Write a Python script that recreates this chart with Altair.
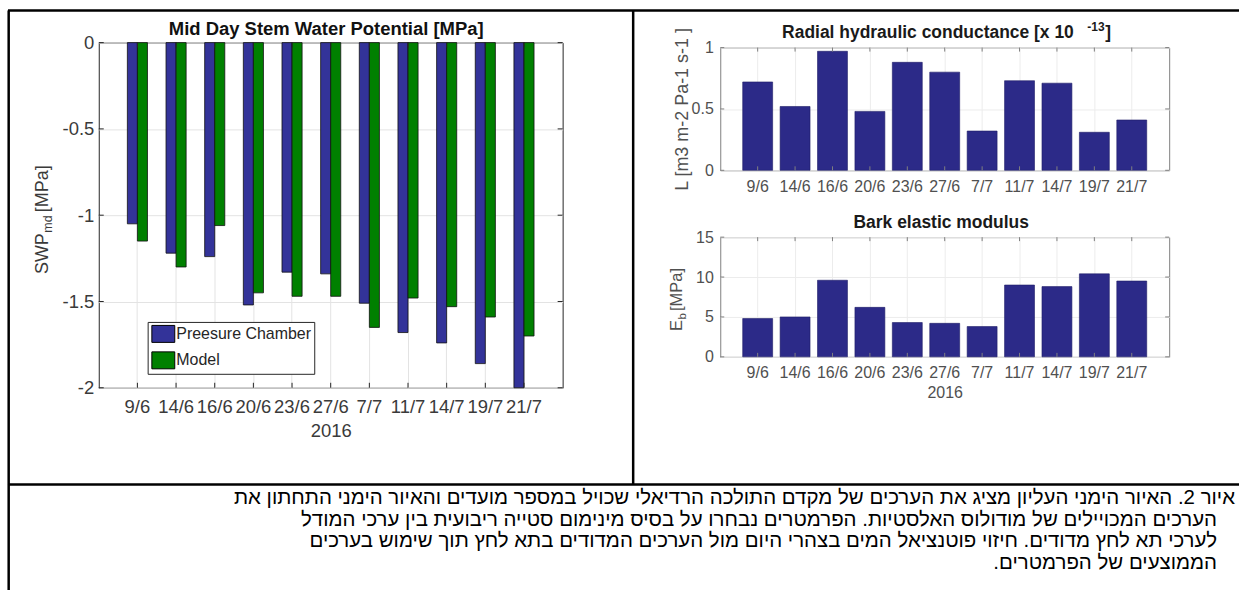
import altair as alt
import pandas as pd

# ---------------------------------------------------------------- data
dates = ["9/6", "14/6", "16/6", "20/6", "23/6", "27/6", "7/7", "11/7", "14/7", "19/7", "21/7"]
series_names = ["Preesure Chamber", "Model"]
swp_chamber = [-1.05, -1.22, -1.24, -1.52, -1.33, -1.34, -1.51, -1.68, -1.74, -1.86, -2.00]
swp_model = [-1.15, -1.30, -1.06, -1.45, -1.47, -1.47, -1.65, -1.48, -1.53, -1.59, -1.70]
radial_conductance = [0.72, 0.52, 0.97, 0.48, 0.88, 0.80, 0.32, 0.73, 0.71, 0.31, 0.41]
bark_modulus = [4.8, 5.0, 9.6, 6.2, 4.3, 4.2, 3.8, 9.0, 8.8, 10.4, 9.5]
swp_ticks = [0, -0.5, -1, -1.5, -2]
conductance_ticks = [0, 0.5, 1]
modulus_ticks = [0, 5, 10, 15]
year_label = "2016"
caption_lines = [
    "איור 2.  האיור הימני העליון מציג את הערכים של מקדם התולכה הרדיאלי שכויל במספר מועדים והאיור הימני התחתון את",
    "הערכים המכויילים של מודולוס האלסטיות. הפרמטרים נבחרו על בסיס מינימום סטייה ריבועית בין ערכי המודל",
    "לערכי תא לחץ מדודים. חיזוי פוטנציאל המים בצהרי היום מול  הערכים המדודים בתא לחץ תוך שימוש בערכים",
    "הממוצעים של הפרמטרים.\u200f",
]

swp_df = pd.DataFrame({
    "date": dates * 2,
    "series": [s for s in series_names for _ in dates],
    "value": swp_chamber + swp_model,
})
cond_df = pd.DataFrame({"date": dates, "value": radial_conductance})
mod_df = pd.DataFrame({"date": dates, "value": bark_modulus})
date_df = pd.DataFrame({"date": dates})
one = pd.DataFrame({"k": [0]})

# ---------------------------------------------------------------- styles
FONT = "Liberation Sans"
CAPTION_FONT = "Liberation Sans"
TXT = "#3a3a3a"
RTXT = "#505050"
BOX = "#262626"
RBOX = "#808080"
GRID = "#e3e3e3"
RGRID = "#ececec"
PC_COLOR = "#333399"
MODEL_COLOR = "#008000"
R_BAR = "#2c2a88"

LW, LH = 465, 346             # left panel plot area
RW, RH1, RH2 = 450, 123, 120  # right panels plot areas
OX, OY = 98, 41               # page position of the left plot origin
RX, RY1, RY2 = 721, 46, 236   # page positions of the right plot origins


def label(text, x, y, size, angle=0, align="left", baseline="alphabetic",
          color=TXT, weight="normal", font=FONT):
    return alt.Chart(one).mark_text(
        text=text, angle=angle, align=align, baseline=baseline,
        fontSize=size, color=color, fontWeight=weight, font=font,
    ).encode(x=alt.value(x), y=alt.value(y))


def line(x1, y1, x2, y2, width=2.5, color="black"):
    return alt.Chart(one).mark_rule(color=color, strokeWidth=width).encode(
        x=alt.value(x1), y=alt.value(y1), x2=alt.value(x2), y2=alt.value(y2))


def inner_ticks(xscale, xaxis, yfield_df, yscale, yaxis, w, h, n, color):
    """Short ticks pointing into the plot box on all four sides."""
    layers = []
    for a, b in [(0, n), (h, h - n)]:
        layers.append(alt.Chart(date_df).mark_rule(color=color, strokeWidth=1).encode(
            x=alt.X("date:N", sort=dates, scale=xscale, axis=xaxis),
            y=alt.value(a), y2=alt.value(b)))
    for a, b in [(0, n), (w, w - n)]:
        layers.append(alt.Chart(yfield_df).mark_rule(color=color, strokeWidth=1).encode(
            y=alt.Y("value:Q", scale=yscale, axis=yaxis),
            x=alt.value(a), x2=alt.value(b)))
    return layers


# ---------------------------------------------------------------- left panel
lx_scale = alt.Scale(domain=dates, paddingInner=0.48, paddingOuter=0.74)
ly_scale = alt.Scale(domain=[-2, 0])
lx_axis = alt.Axis(title=year_label, labelAngle=0, labelFontSize=18.5, labelColor=TXT,
                   titleFontSize=18.5, titleFontWeight="normal", titleColor=TXT,
                   titlePadding=5, ticks=False, labelPadding=10, domain=False,
                   grid=True, gridColor=GRID, bandPosition=0.5, labelFont=FONT,
                   titleFont=FONT)
ly_axis = alt.Axis(values=swp_ticks, labelExpr="'' + datum.value", title=None,
                   labelFontSize=18.5, labelColor=TXT, ticks=False, labelPadding=5,
                   domain=False, grid=True, gridColor=GRID, labelFont=FONT)

# legend swatch: 23 x 17 px rectangle
legend_box = "M-1.35,-1L1.35,-1L1.35,1L-1.35,1Z"
swp_bars = alt.Chart(swp_df).mark_bar(stroke="#111111", strokeWidth=0.8).encode(
    x=alt.X("date:N", sort=dates, scale=lx_scale, axis=lx_axis),
    xOffset=alt.XOffset("series:N", sort=series_names),
    y=alt.Y("value:Q", scale=ly_scale, axis=ly_axis),
    color=alt.Color("series:N", sort=series_names,
                    scale=alt.Scale(domain=series_names, range=[PC_COLOR, MODEL_COLOR]),
                    legend=alt.Legend(orient="none", legendX=49, legendY=280, title=None,
                                      strokeColor=BOX, fillColor="white", padding=3,
                                      symbolType=legend_box, symbolSize=289,
                                      symbolOffset=3.7,
                                      symbolStrokeColor="black", symbolStrokeWidth=1,
                                      symbolOpacity=1, labelFontSize=16,
                                      labelColor="#262626", labelFont=FONT,
                                      rowPadding=4.5, labelOffset=4, labelLimit=300)),
)

swp_tick_df = pd.DataFrame({"value": swp_ticks})
left_layers = [
    # page frame: fixes the canvas extent
    alt.Chart(one).mark_rect(opacity=0).encode(
        x=alt.value(-OX), x2=alt.value(1241 - OX), y=alt.value(-OY), y2=alt.value(590 - OY)),
    swp_bars,
]
left_layers += inner_ticks(lx_scale, lx_axis, swp_tick_df, ly_scale, ly_axis, LW, LH, 5, BOX)
left_layers += [
    label("Mid Day Stem Water Potential [MPa]", 228, -8, 18.5, align="center",
          color="#111111", weight="bold"),
    # y title: SWP_md [MPa]
    label("SWP", -51, 232, 18, angle=270),
    label("md", -47, 190.5, 12.5, angle=270),
    label("[MPa]", -51, 170, 18, angle=270),
    # page table rules
    line(7 - OX, 8.7 - OY, 1241 - OX, 8.7 - OY),
    line(7.7 - OX, 8.7 - OY, 7.7 - OX, 590 - OY),
    line(633.7 - OX, 8.7 - OY, 633.7 - OX, 484 - OY),
    line(7 - OX, 484 - OY, 1241 - OX, 484 - OY),
]
caption_pos = [(1237, 498), (1219, 519.5), (1219, 541), (1219, 562.5)]
for text, (cx, cy) in zip(caption_lines, caption_pos):
    left_layers.append(label(text, cx - OX, cy - OY, 20.5, align="right",
                             baseline="middle", color="black", font=CAPTION_FONT))

left = alt.layer(*left_layers).properties(
    width=LW, height=LH,
    view=alt.ViewBackground(stroke=BOX, strokeWidth=1),
)

# ---------------------------------------------------------------- right panels
rx_scale = alt.Scale(domain=dates, paddingInner=0.2, paddingOuter=0.6)


def rx_axis(title):
    kw = dict(labelAngle=0, labelFontSize=16, labelColor=RTXT, ticks=False,
              labelPadding=8, domain=False, grid=True, gridColor=RGRID,
              bandPosition=0.5, labelFont=FONT)
    if title:
        return alt.Axis(title=title, titleFontSize=16, titleFontWeight="normal",
                        titleColor=RTXT, titlePadding=4, titleFont=FONT, **kw)
    return alt.Axis(title=None, **kw)


# radial hydraulic conductance
c_y_scale = alt.Scale(domain=[0, 1])
c_x_axis = rx_axis(None)
c_y_axis = alt.Axis(values=conductance_ticks, labelExpr="'' + datum.value",
                    title="L [m3 m-2 Pa-1 s-1 ]", titleFontSize=18,
                    titleFontWeight="normal", titleColor=RTXT, titleX=-33,
                    titleBaseline="alphabetic", titleFont=FONT,
                    labelFontSize=16, labelColor=RTXT, ticks=False, labelPadding=7,
                    domain=False, grid=True, gridColor=RGRID, labelFont=FONT)
cond_layers = [
    alt.Chart(cond_df).mark_bar(color=R_BAR, stroke="#1e1c66", strokeWidth=0.6).encode(
        x=alt.X("date:N", sort=dates, scale=rx_scale, axis=c_x_axis),
        y=alt.Y("value:Q", scale=c_y_scale, axis=c_y_axis)),
]
cond_layers += inner_ticks(rx_scale, c_x_axis, pd.DataFrame({"value": conductance_ticks}),
                           c_y_scale, c_y_axis, RW, RH1, 4, RBOX)
# title with a raised exponent
cond_layers += [
    label("Radial hydraulic conductance [x 10", 62, -10, 17.5, color="#1a1a1a", weight="bold"),
    label("-13", 368, -17, 12, color="#1a1a1a", weight="bold"),
    label("]", 386, -10, 17.5, color="#1a1a1a", weight="bold"),
]
rtop = alt.layer(*cond_layers).properties(
    width=RW, height=RH1,
    view=alt.ViewBackground(stroke=RBOX, strokeWidth=1),
)

# bark elastic modulus
m_y_scale = alt.Scale(domain=[0, 15])
m_x_axis = rx_axis(year_label)
m_y_axis = alt.Axis(values=modulus_ticks, labelExpr="'' + datum.value", title=None,
                    labelFontSize=16, labelColor=RTXT, ticks=False, labelPadding=7,
                    domain=False, grid=True, gridColor=RGRID, labelFont=FONT)
mod_layers = [
    alt.Chart(mod_df).mark_bar(color=R_BAR, stroke="#1e1c66", strokeWidth=0.6).encode(
        x=alt.X("date:N", sort=dates, scale=rx_scale, axis=m_x_axis),
        y=alt.Y("value:Q", scale=m_y_scale, axis=m_y_axis)),
]
mod_layers += inner_ticks(rx_scale, m_x_axis, pd.DataFrame({"value": modulus_ticks}),
                          m_y_scale, m_y_axis, RW, RH2, 4, RBOX)
mod_layers += [
    label("Bark elastic modulus", 221.5, -9, 17.5, align="center", color="#1a1a1a",
          weight="bold"),
    label("E", -38, 94, 16.5, angle=270, color=RTXT),
    label("b", -34.5, 82.5, 11.5, angle=270, color=RTXT),
    label("[MPa]", -38, 74, 16.5, angle=270, color=RTXT),
]
rbottom = alt.layer(*mod_layers).properties(
    width=RW, height=RH2,
    view=alt.ViewBackground(stroke=RBOX, strokeWidth=1),
)

spacer = alt.Chart(one).mark_point(opacity=0).encode(
    x=alt.value(0), y=alt.value(0)
).properties(width=RW, height=RY1 - OY, view=alt.ViewBackground(stroke="transparent"))

# the nested block takes no room in a flush layout, so the lower panel's
# offset is the spacing alone
right_top = alt.vconcat(spacer, rtop, spacing=0, bounds="flush")
right_col = alt.vconcat(right_top, rbottom, spacing=RY2 - OY, bounds="flush")

chart = alt.hconcat(left, right_col, spacing=RX - OX - LW, bounds="flush").properties(
    padding=0, background="white"
).configure(font=FONT).configure_view(stroke="transparent")

chart.save("out.html", embed_options={"renderer": "svg", "actions": False})
